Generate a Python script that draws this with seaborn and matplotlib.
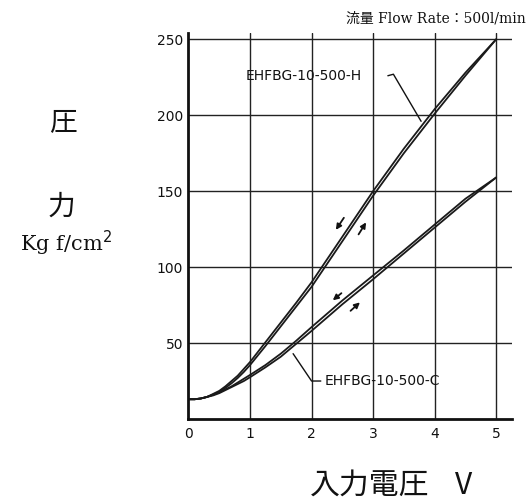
import matplotlib
matplotlib.use("Agg")
import matplotlib.pyplot as plt
import seaborn as sns
import pandas as pd

sns.set_theme(style="white")
plt.rcParams['font.family'] = ['DejaVu Sans', 'Noto Sans CJK JP']

# Input voltage (V)
voltage = [0.0, 0.1, 0.2, 0.3, 0.4, 0.5, 0.6, 0.7, 0.8, 0.9, 1.0, 1.25, 1.5, 1.75,
           2.0, 2.5, 3.0, 3.5, 4.0, 4.5, 5.0]
# EHFBG-10-500-H pressure (kgf/cm2), rising / falling
h_up = [13, 13, 13.5, 14.5, 16, 18, 20.5, 23.5, 27, 31, 35.5, 48, 61, 74,
        87, 117, 147, 175, 201, 226, 250]
h_down = [13, 13, 13.5, 14.5, 16.5, 18.5, 21.5, 25, 28.5, 33, 37.5, 50.5, 63.5, 76.5,
          90, 120, 150, 178, 204, 228, 250]
# EHFBG-10-500-C pressure (kgf/cm2), rising / falling
c_up = [13, 13, 13.5, 14.5, 15.5, 17, 19, 21, 23, 25, 27.5, 34, 41, 49.5,
        58, 75.5, 92, 109, 126, 143, 159]
c_down = [13, 13, 13.5, 14.5, 16, 17.5, 19.5, 21.5, 24, 26.5, 29, 35.5, 43, 51.5,
          60.5, 78, 94.5, 111, 128, 145, 159]

rows = []
for name, vals in [("H_up", h_up), ("H_down", h_down), ("C_up", c_up), ("C_down", c_down)]:
    for v, p in zip(voltage, vals):
        rows.append({"V": v, "P": p, "s": name})
df = pd.DataFrame(rows)

fig = plt.figure(figsize=(5.28, 5.01), dpi=100)
ax = fig.add_axes([0.357, 0.1637, 0.613, 0.77])

sns.lineplot(data=df, x="V", y="P", units="s", estimator=None, color="#1a1a1a",
             linewidth=1.3, ax=ax, legend=False)

ax.set_xlim(0, 5.26)
ax.set_ylim(0, 254)
ax.set_xticks([0, 1, 2, 3, 4, 5])
ax.set_yticks([50, 100, 150, 200, 250])
for v in [1, 2, 3, 4, 5]:
    ax.axvline(v, color="#222222", lw=1.0, zorder=0.5)
for p in [50, 100, 150, 200, 250]:
    ax.axhline(p, color="#222222", lw=1.0, zorder=0.5)

for s in ["top", "right"]:
    ax.spines[s].set_visible(False)
for s in ["left", "bottom"]:
    ax.spines[s].set_color("#111111")
    ax.spines[s].set_linewidth(2.0)
ax.tick_params(axis="both", length=0, labelsize=10, colors="#111111", pad=6)
ax.yaxis.set_tick_params(pad=4)
ax.set_xlabel("")
ax.set_ylabel("")

# hysteresis arrows
arr = dict(arrowstyle="-|>", color="#111111", lw=1.3, mutation_scale=8)
ax.annotate("", xy=(2.37, 123), xytext=(2.55, 134), arrowprops=arr)
ax.annotate("", xy=(2.91, 131), xytext=(2.74, 120), arrowprops=arr)
ax.annotate("", xy=(2.31, 77), xytext=(2.52, 84), arrowprops=arr)
ax.annotate("", xy=(2.82, 78), xytext=(2.60, 70), arrowprops=arr)

# curve labels with leader lines
ax.text(0.93, 226, "EHFBG-10-500-H", fontsize=10, va="center", ha="left", color="#111111")
ax.plot([3.24, 3.33, 3.78], [226, 227, 196], color="#111111", lw=1.0)
ax.text(2.22, 25, "EHFBG-10-500-C", fontsize=10, va="center", ha="left", color="#111111")
ax.plot([2.15, 2.0, 1.70], [25, 25, 43], color="#111111", lw=1.0)

# titles / axis labels
fig.text(526 / 528, 1 - 18 / 501, "流量 Flow Rate：500l/min", fontsize=10,
         family=["DejaVu Serif", "Noto Sans CJK JP"], va="center", ha="right", color="#111111")
fig.text(63 / 528, 1 - 122 / 501, "圧", fontsize=20, family=["Noto Sans CJK JP"],
         ha="center", va="center", color="#111111")
fig.text(61 / 528, 1 - 207 / 501, "力", fontsize=20, family=["Noto Sans CJK JP"],
         ha="center", va="center", color="#111111")
fig.text(66 / 528, 1 - 243 / 501, "Kg f/cm$^2$", fontsize=15, family=["DejaVu Serif"],
         ha="center", va="center", color="#111111")
fig.text(370 / 528, 1 - 485 / 501, "入力電圧", fontsize=21.5, family=["Noto Sans CJK JP"],
         ha="center", va="center", color="#111111")
fig.text(464 / 528, 1 - 485 / 501, "V", fontsize=21.5, family=["Noto Sans CJK JP"],
         ha="center", va="center", color="#111111")

fig.savefig("out.png", dpi=100, facecolor="white")
